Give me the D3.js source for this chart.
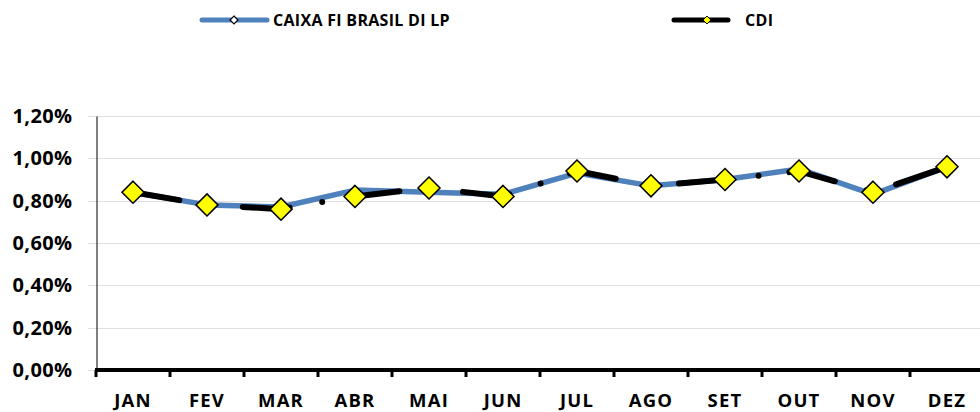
<!DOCTYPE html>
<html>
<head>
<meta charset="utf-8">
<script src="https://cdn.jsdelivr.net/npm/d3@7"></script>
<style>
  html, body { margin: 0; padding: 0; background: #fff; }
  svg { display: block; font-family: "Open Sans", sans-serif; font-weight: 700; }
</style>
</head>
<body>
<svg id="chart" width="980" height="412"></svg>
<script>
const months = ["JAN","FEV","MAR","ABR","MAI","JUN","JUL","AGO","SET","OUT","NOV","DEZ"];
const caixa = [0.84, 0.78, 0.77, 0.85, 0.84, 0.83, 0.93, 0.87, 0.90, 0.95, 0.83, 0.96];
const cdi   = [0.84, 0.78, 0.76, 0.82, 0.86, 0.82, 0.94, 0.87, 0.90, 0.94, 0.84, 0.96];
const yTicks = [0, 0.2, 0.4, 0.6, 0.8, 1.0, 1.2];
const seriesNames = ["CAIXA FI BRASIL DI LP", "CDI"];

const svg = d3.select("#chart");
const mLeft = 96, mRight = 984, mTop = 116, mBottom = 370;

const x = d3.scaleBand().domain(months).range([mLeft, mRight]).padding(0);
const y = d3.scaleLinear().domain([0, 1.2]).range([mBottom, mTop]);
const fmt = v => d3.format(".2f")(v).replace(".", ",") + "%";

// gridlines
svg.append("g").selectAll("line").data(yTicks).join("line")
  .attr("x1", 88).attr("x2", mRight)
  .attr("y1", d => Math.round(y(d)) + 0.5).attr("y2", d => Math.round(y(d)) + 0.5)
  .attr("stroke", "#e0e0e0").attr("stroke-width", 1);

// y axis
const yAxis = d3.axisLeft(y).tickValues(yTicks).tickFormat(fmt).tickSize(0).tickPadding(24);
const gy = svg.append("g").attr("transform", `translate(${mLeft + 0.5},0)`).call(yAxis);
gy.select(".domain").attr("stroke", "#000").attr("stroke-width", 1);
gy.selectAll("text").attr("font-size", 20).attr("font-weight", 700)
  .attr("letter-spacing", 0.4)
  .attr("font-family", "Open Sans, sans-serif").attr("fill", "#000");

// x axis
const xAxis = d3.axisBottom(x).tickSize(0);
const gx = svg.append("g").attr("transform", `translate(0,${mBottom})`).call(xAxis);
gx.select(".domain").remove();
gx.selectAll("text").attr("y", 37).attr("dy", null)
  .attr("font-size", 18.5).attr("font-weight", 700).attr("letter-spacing", 1.2)
  .attr("font-family", "Open Sans, sans-serif").attr("fill", "#000");
// boundary tick marks
svg.append("g").selectAll("rect").data(months).join("rect")
  .attr("x", d => x(d) - 1.5).attr("y", mBottom).attr("width", 3).attr("height", 7)
  .attr("fill", "#000");
svg.append("line").attr("x1", mLeft - 1).attr("x2", mRight)
  .attr("y1", mBottom).attr("y2", mBottom)
  .attr("stroke", "#000").attr("stroke-width", 4);

const cx = d => x(d) + x.bandwidth() / 2;
const line = d3.line().x((d, i) => cx(months[i])).y(d => y(d));

// CAIXA line
svg.append("path").datum(caixa).attr("d", line)
  .attr("fill", "none").attr("stroke", "#4f81bd").attr("stroke-width", 5.5)
  .attr("stroke-linejoin", "round").attr("stroke-linecap", "round");
const diamond = d3.symbol().type(d3.symbolDiamond2);
svg.append("g").selectAll("path").data(caixa).join("path")
  .attr("d", diamond.size(40)())
  .attr("transform", (d, i) => `translate(${cx(months[i])},${y(d)})`)
  .attr("fill", "#fff").attr("stroke", "#000").attr("stroke-width", 1.2);

// CDI line
svg.append("path").datum(cdi).attr("d", line)
  .attr("fill", "none").attr("stroke", "#000").attr("stroke-width", 6)
  .attr("stroke-linejoin", "round").attr("stroke-linecap", "round")
  .attr("stroke-dasharray", "47,33,0,31");
svg.append("g").selectAll("path").data(cdi).join("path")
  .attr("d", diamond.size(310)())
  .attr("transform", (d, i) => `translate(${cx(months[i])},${y(d)})`)
  .attr("fill", "#ffff00").attr("stroke", "#000").attr("stroke-width", 1.5);

// legend
const lg = svg.append("g");
lg.append("line").attr("x1", 202).attr("x2", 267).attr("y1", 20).attr("y2", 20)
  .attr("stroke", "#4f81bd").attr("stroke-width", 5).attr("stroke-linecap", "round");
lg.append("path").attr("d", diamond.size(40)()).attr("transform", "translate(234,20)")
  .attr("fill", "#fff").attr("stroke", "#000").attr("stroke-width", 1.2);
lg.append("text").attr("x", 273).attr("y", 26).attr("font-size", 16)
  .attr("letter-spacing", 0.3).text(seriesNames[0]);

lg.append("line").attr("x1", 674).attr("x2", 728).attr("y1", 20).attr("y2", 20)
  .attr("stroke", "#000").attr("stroke-width", 5).attr("stroke-linecap", "round");
lg.append("path").attr("d", diamond.size(40)()).attr("transform", "translate(707,20)")
  .attr("fill", "#ffff00").attr("stroke", "#000").attr("stroke-width", 1);
lg.append("text").attr("x", 745).attr("y", 26).attr("font-size", 16)
  .attr("letter-spacing", 0.3).text(seriesNames[1]);
</script>
</body>
</html>
